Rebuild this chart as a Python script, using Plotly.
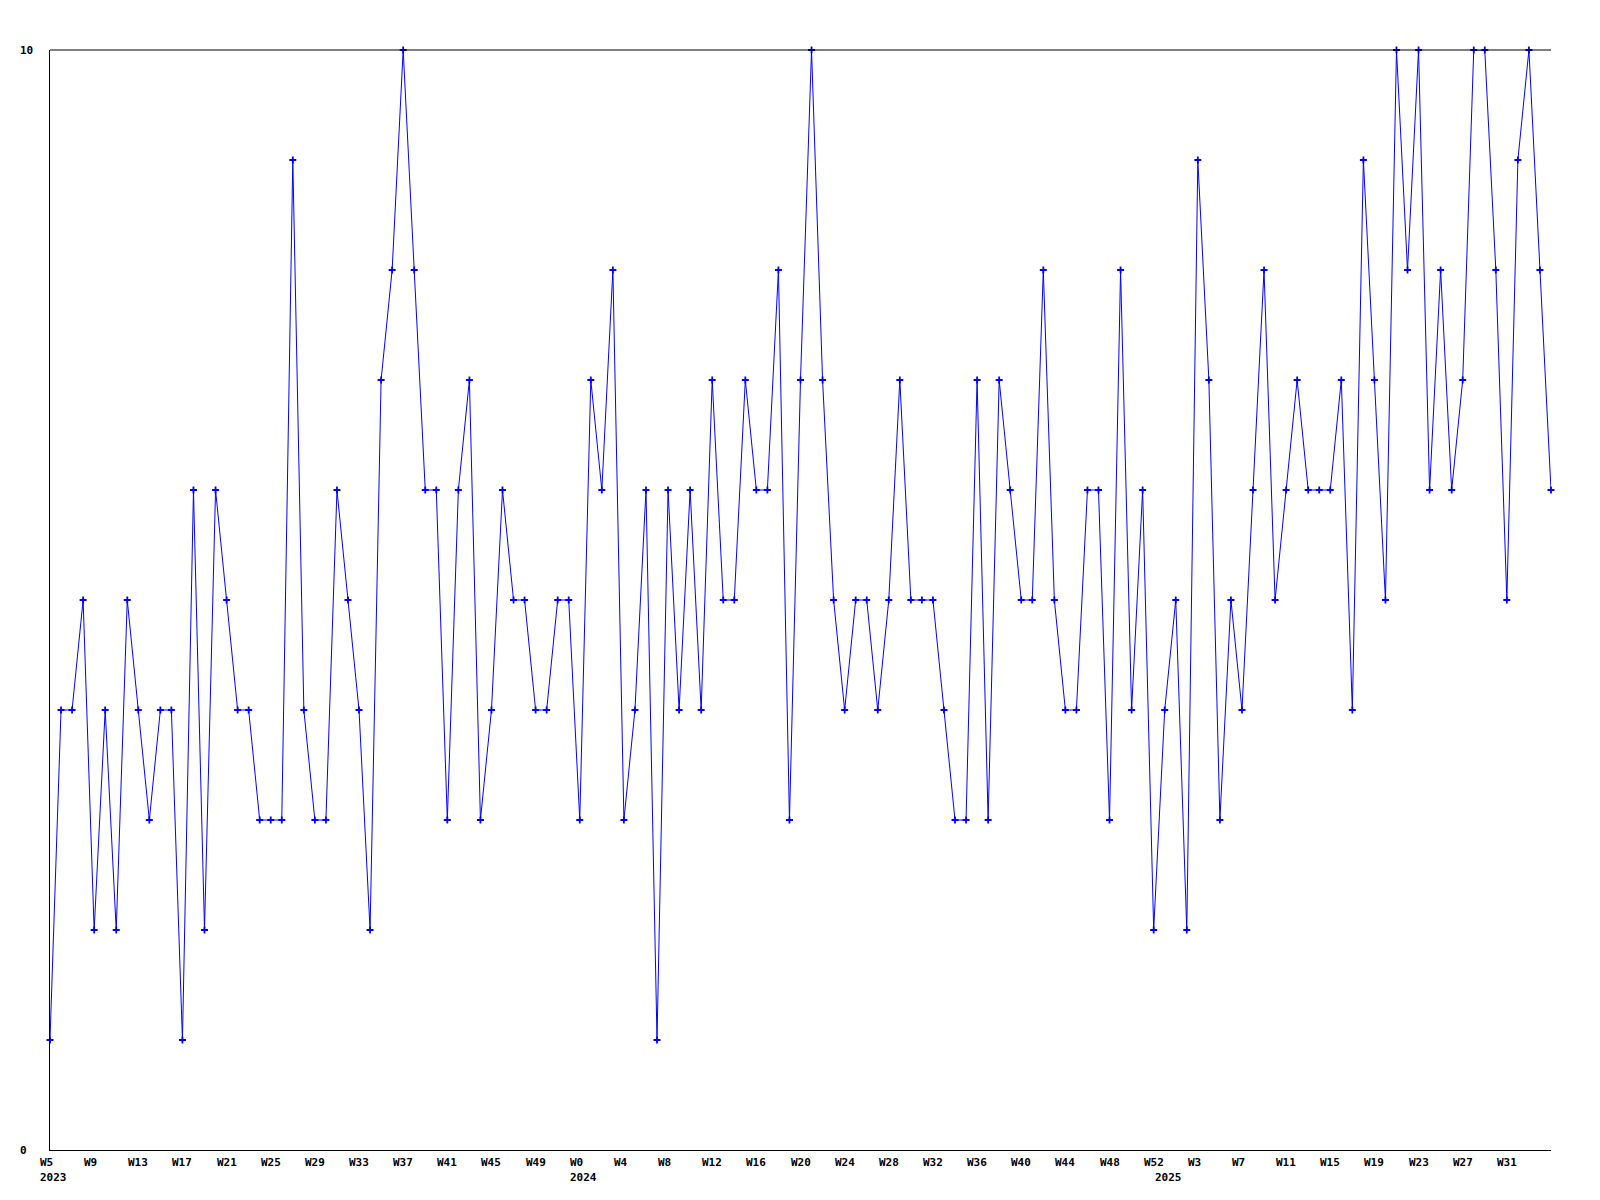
import plotly.graph_objects as go

# Weekly values, W5 2023 .. W35 2025
values = [
    1, 4, 4, 5, 2, 4, 2, 5, 4, 3, 4, 4, 1, 6, 2, 6, 5, 4, 4, 3,
    3, 3, 9, 4, 3, 3, 6, 5, 4, 2, 7, 8, 10, 8, 6, 6, 3, 6, 7, 3,
    4, 6, 5, 5, 4, 4, 5, 5, 3, 7, 6, 8, 3, 4, 6, 1, 6, 4, 6, 4,
    7, 5, 5, 7, 6, 6, 8, 3, 7, 10, 7, 5, 4, 5, 5, 4, 5, 7, 5, 5,
    5, 4, 3, 3, 7, 3, 7, 6, 5, 5, 8, 5, 4, 4, 6, 6, 3, 8, 4, 6,
    2, 4, 5, 2, 9, 7, 3, 5, 4, 6, 8, 5, 6, 7, 6, 6, 6, 7, 4, 9,
    7, 5, 10, 8, 10, 6, 8, 6, 7, 10, 10, 8, 5, 9, 10, 8, 6,
]
x_idx = list(range(len(values)))

tick_labels = [
    "W5", "W9", "W13", "W17", "W21", "W25", "W29", "W33", "W37", "W41", "W45", "W49",
    "W0", "W4", "W8", "W12", "W16", "W20", "W24", "W28", "W32", "W36", "W40", "W44", "W48", "W52",
    "W3", "W7", "W11", "W15", "W19", "W23", "W27", "W31",
]
tick_step = 4

# year labels and the week index where each year starts
years = ["2023", "2024", "2025"]
year_start_idx = [0, 48, 101]

y_labels = ["0", "10"]
y_vals = [0, 10]

FONT = dict(family="DejaVu Sans Mono", size=11, color="black")

fig = go.Figure()
fig.add_trace(go.Scatter(
    x=x_idx, y=values, mode="lines+markers",
    line=dict(color="#0000ff", width=1),
    marker=dict(symbol="cross-thin", size=5, color="#0000ff",
                line=dict(color="#0000ff", width=1.8)),
    hoverinfo="skip", showlegend=False, cliponaxis=False,
))

annotations = []
for i, lab in enumerate(tick_labels):
    annotations.append(dict(
        x=i * tick_step, y=0, xref="x", yref="paper",
        xanchor="left", yanchor="top", align="left",
        xshift=-11, yshift=-5, text=f"<b>{lab}</b>", showarrow=False,
        font=FONT, borderpad=0,
    ))
for yr, xi in zip(years, year_start_idx):
    annotations.append(dict(
        x=xi, y=0, xref="x", yref="paper",
        xanchor="left", yanchor="top", align="left",
        xshift=-11, yshift=-20, text=f"<b>{yr}</b>", showarrow=False,
        font=FONT, borderpad=0,
    ))
for lab, v in zip(y_labels, y_vals):
    annotations.append(dict(
        x=0, y=v, xref="paper", yref="y",
        xanchor="left", yanchor="middle", xshift=-31,
        text=f"<b>{lab}</b>", showarrow=False, font=FONT, borderpad=0,
    ))

fig.update_layout(
    width=1600, height=1200,
    margin=dict(l=42, r=57, t=42, b=58),
    plot_bgcolor="white", paper_bgcolor="white",
    xaxis=dict(range=[0, len(values) - 1], showgrid=False, zeroline=False,
               showticklabels=False, ticks="", showline=True,
               linecolor="black", linewidth=1),
    yaxis=dict(range=[0, 10], showgrid=False, zeroline=False,
               showticklabels=False, ticks="", showline=True,
               linecolor="black", linewidth=1),
    shapes=[dict(type="line", xref="paper", yref="paper", x0=0, x1=1, y0=1, y1=1,
                 line=dict(color="black", width=1))],
    annotations=annotations,
)

fig.write_html("out.html")
